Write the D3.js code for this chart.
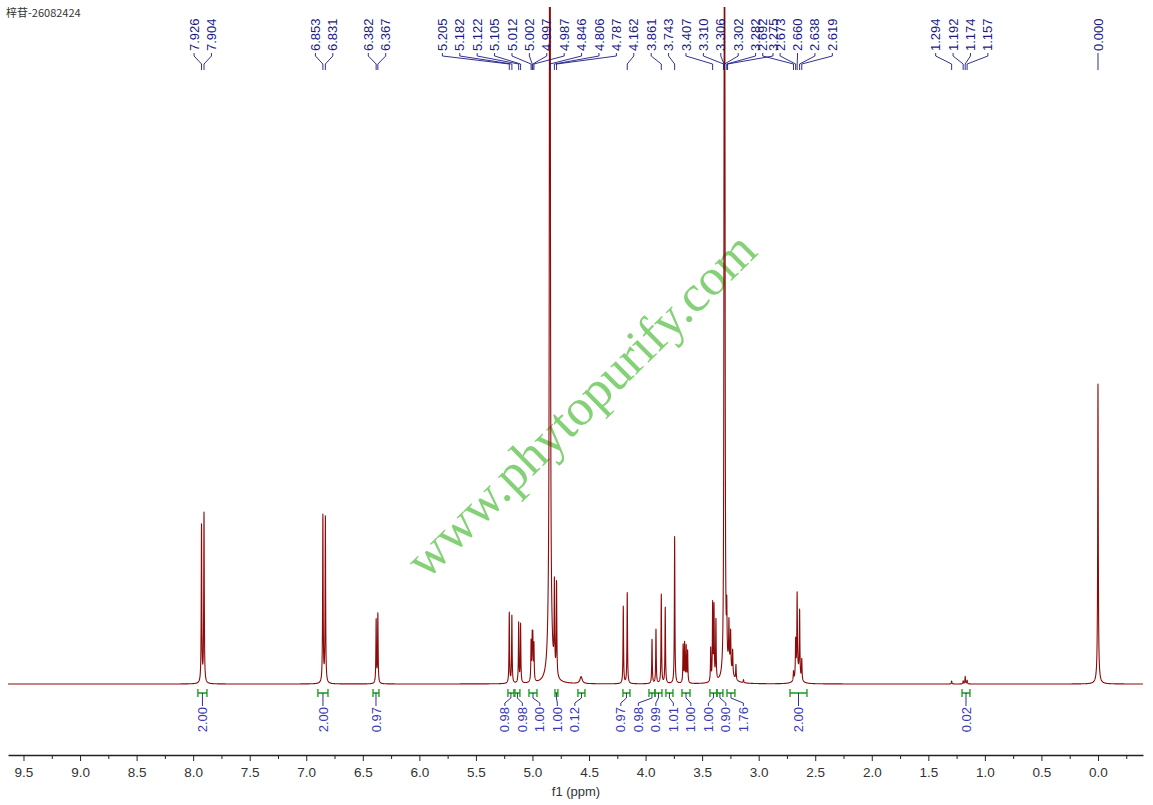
<!DOCTYPE html>
<html><head><meta charset="utf-8">
<script src="https://cdn.jsdelivr.net/npm/d3@7"></script>
<style>
body{margin:0;background:#fff;}
svg{display:block;font-family:"Liberation Sans",Arial,sans-serif;}
</style></head><body>
<svg id="chart"></svg>
<script>
const W = 1153, H = 805;

// spectrum lines: shift (ppm) and height (TMS line = 100)
const PEAK_PPM = [7.926, 7.904, 6.853, 6.831, 6.382, 6.367,
  5.205, 5.182, 5.122, 5.105, 5.012, 5.002, 4.997, 4.987,
  4.846, 4.806, 4.787, 4.197, 4.162,
  3.943, 3.908, 3.861, 3.826, 3.743,
  3.668, 3.655, 3.641, 3.628,
  3.424, 3.407, 3.395, 3.378,
  3.306, 3.302, 3.298,
  3.282, 3.263, 3.248, 3.230, 3.201, 3.134,
  2.692, 2.673, 2.660, 2.638, 2.619,
  1.294, 1.192, 1.174, 1.157, 0.000];
const PEAK_HEIGHT = [52.5, 56.5, 55.8, 55.2, 21, 23,
  23.5, 22.5, 20, 19.5, 13, 13, 13, 12,
  600, 29, 31, 25.7, 30.3,
  14.7, 18, 29.7, 25.3, 49,
  12.5, 13, 12, 10.5,
  11, 25.5, 24.5, 20,
  100, 240, 100,
  17, 14, 12, 8, 5, 1,
  3, 12, 26, 22, 7,
  1, 1, 2.5, 1.2, 95];
const PEAK_HW = 0.0028;
const BROAD_PPM = [4.846, 4.57, 3.26, 2.655, 0.000];
const BROAD_HEIGHT = [25, 2.3, 5, 4, 5];
const BROAD_HW = [0.015, 0.012, 0.03, 0.02, 0.01];

// peak pick labels, one array per multiplet
const LABEL_GROUPS = [
  ['7.926', '7.904'],
  ['6.853', '6.831'],
  ['6.382', '6.367'],
  ['5.205', '5.182', '5.122', '5.105', '5.012', '5.002', '4.997', '4.987', '4.846', '4.806',
   '4.787', '4.162', '3.861', '3.743', '3.407', '3.310', '3.306', '3.302', '3.282', '3.275'],
  ['2.692', '2.673', '2.660', '2.638', '2.619'],
  ['1.294', '1.192', '1.174', '1.157'],
  ['0.000']
];

// integrals
const INT_FROM = [7.958, 6.897, 6.410, 5.217, 5.155, 5.031, 4.801, 4.598,
  4.200, 3.970, 3.917, 3.820, 3.678, 3.431, 3.369, 3.280, 2.723, 1.202];
const INT_TO = [7.878, 6.808, 6.357, 5.164, 5.111, 4.960, 4.775, 4.536,
  4.138, 3.917, 3.855, 3.758, 3.607, 3.369, 3.316, 3.210, 2.573, 1.132];
const INT_VALUE = ['2.00', '2.00', '0.97', '0.98', '0.98', '1.00', '1.00', '0.12',
  '0.97', '0.98', '0.99', '1.01', '1.00', '1.00', '0.90', '1.76', '2.00', '0.02'];
const INT_GROUP = [0, 1, 2, 3, 3, 3, 3, 3, 4, 4, 4, 4, 4, 4, 4, 4, 5, 6];

const MAJOR_TICKS = [9.5, 9.0, 8.5, 8.0, 7.5, 7.0, 6.5, 6.0, 5.5, 5.0, 4.5, 4.0, 3.5, 3.0, 2.5, 2.0, 1.5, 1.0, 0.5, 0.0];

const svg = d3.select('#chart').attr('width', W).attr('height', H);

const x = d3.scaleLinear().domain([9.637, -0.398]).range([8, 1143]);
const y = d3.scaleLinear().domain([0, 100]).range([684, 384]);

// title
svg.append('text').attr('x', 6).attr('y', 17)
  .attr('font-family', '"Noto Sans CJK SC",sans-serif').attr('font-size', 11)
  .attr('fill', '#333').text('梓苷-26082424');

// watermark
svg.append('text')
  .attr('transform', 'translate(582,406) rotate(-44.5)')
  .attr('text-anchor', 'middle').attr('dy', '0.3em')
  .attr('font-family', '"Liberation Serif","Times New Roman",serif')
  .attr('font-size', 52).attr('fill', '#78cc68').attr('fill-opacity', 0.9)
  .text('www.phytopurify.com');

// spectrum = sum of lorentzian lines
function intensity(p) {
  let s = 0;
  for (let i = 0; i < PEAK_PPM.length; i++) {
    const d = p - PEAK_PPM[i];
    s += PEAK_HEIGHT[i] * PEAK_HW * PEAK_HW / (d * d + PEAK_HW * PEAK_HW);
  }
  for (let i = 0; i < BROAD_PPM.length; i++) {
    const d = p - BROAD_PPM[i], w = BROAD_HW[i];
    s += BROAD_HEIGHT[i] * w * w / (d * d + w * w);
  }
  return s;
}
const pts = d3.range(9.637, -0.398, -0.0005).map(p => [p, intensity(p)]);

svg.append('clipPath').attr('id', 'clip').append('rect')
  .attr('x', 8).attr('y', 7).attr('width', 1135).attr('height', 700);

svg.append('path').datum(pts)
  .attr('clip-path', 'url(#clip)')
  .attr('fill', 'none').attr('stroke', '#8b0a0a').attr('stroke-width', 1.1)
  .attr('stroke-linejoin', 'round')
  .attr('d', d3.line().x(d => x(d[0])).y(d => y(d[1])));

// spread labels of a group evenly around the mean target
function spread(targets, gap) {
  const c = d3.mean(targets), n = targets.length;
  return targets.map((t, i) => c + (i - (n - 1) / 2) * gap);
}

// peak labels
const pl = svg.append('g');
LABEL_GROUPS.forEach(g => {
  const px = g.map(s => x(+s));
  const lx = spread(px, 17.4);
  g.forEach((s, i) => {
    pl.append('path')
      .attr('d', `M${lx[i]},53V56L${px[i]},64V70`)
      .attr('fill', 'none').attr('stroke', '#1a1a86').attr('stroke-width', 0.9);
    pl.append('text')
      .attr('transform', `translate(${lx[i]},51) rotate(-90)`)
      .attr('dy', '0.35em').attr('font-size', 13).attr('fill', '#1a1a86')
      .text(s);
  });
});

// integrals
const ig = svg.append('g');
const groups = d3.groups(d3.range(INT_VALUE.length), i => INT_GROUP[i]);
groups.forEach(([, idx]) => {
  const cx = idx.map(i => (x(INT_FROM[i]) + x(INT_TO[i])) / 2);
  const lx = spread(cx, 17.5);
  idx.forEach((i, k) => {
    const x1 = x(INT_FROM[i]), x2 = x(INT_TO[i]);
    ig.append('path')
      .attr('d', `M${x1},689V697M${x1},693H${x2}M${x2},689V697`)
      .attr('fill', 'none').attr('stroke', '#169a16').attr('stroke-width', 1.3);
    ig.append('path')
      .attr('d', `M${cx[k]},693V698L${lx[k]},703V706`)
      .attr('fill', 'none').attr('stroke', '#1a1a86').attr('stroke-width', 0.9);
    ig.append('text')
      .attr('transform', `translate(${lx[k]},707) rotate(-90)`)
      .attr('text-anchor', 'end').attr('dy', '0.35em')
      .attr('font-size', 13).attr('fill', '#3a3ab4')
      .text(INT_VALUE[i]);
  });
});

// axis
const axisG = svg.append('g').attr('transform', 'translate(0,755)');
axisG.call(d3.axisBottom(x).tickValues(MAJOR_TICKS).tickSize(6).tickPadding(6)
  .tickFormat(d3.format('.1f')).tickSizeOuter(0));
const minor = MAJOR_TICKS.map(v => v - 0.25).filter(v => v > -0.398);
axisG.append('g').call(d3.axisBottom(x).tickValues(minor).tickSize(4)
  .tickFormat('').tickSizeOuter(0)).select('.domain').remove();
axisG.selectAll('.domain').attr('stroke', '#222').attr('stroke-width', 1.4);
axisG.selectAll('line').attr('stroke', '#222');
axisG.selectAll('text').attr('font-size', 13.5).attr('fill', '#333')
  .attr('font-family', '"Liberation Sans",Arial,sans-serif');

svg.append('text').attr('x', 576).attr('y', 796).attr('text-anchor', 'middle')
  .attr('font-size', 13).attr('fill', '#333').text('f1 (ppm)');
</script>
</body></html>
